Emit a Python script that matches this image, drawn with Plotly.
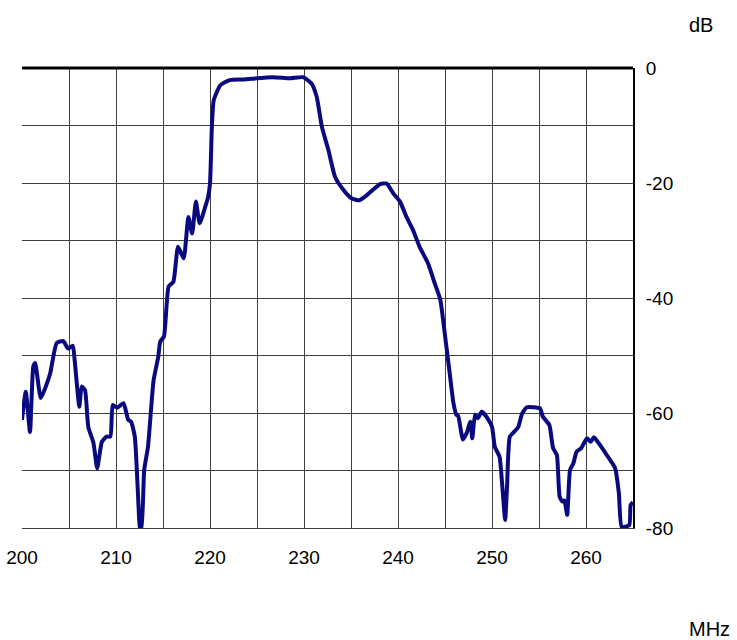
import plotly.graph_objects as go

# Frequency response data
freq_mhz = [
    200.0, 200.4, 200.85, 201.2, 201.4, 202.0, 202.6, 203.0, 203.7, 204.4,
    204.9, 205.4, 205.6, 206.1, 206.35, 206.7, 207.05, 207.6, 208.0, 208.5,
    209.0, 209.4, 209.65, 210.1, 210.8, 211.3, 211.6, 212.0, 212.4, 212.55,
    212.7, 213.0, 213.4, 214.0, 214.5, 214.7, 215.1, 215.6, 216.1, 216.6,
    217.2, 217.7, 218.1, 218.5, 218.9, 219.5, 219.8, 220.0, 220.2, 220.4,
    221.1, 222.1, 223.5, 226.7, 228.5, 229.9, 230.8, 231.35, 231.9, 232.6,
    233.3, 234.2, 235.1, 235.9, 236.7, 237.4, 238.1, 238.8, 239.5, 240.2,
    240.9, 241.6, 242.3, 243.2, 243.9, 244.5, 245.0, 245.5, 245.9, 246.2,
    246.4, 246.9, 247.3, 247.7, 247.9, 248.2, 248.5, 248.9, 249.4, 250.0,
    250.3, 250.8, 251.1, 251.4, 251.6, 251.9, 252.4, 252.8, 253.2, 253.7,
    254.4, 255.1, 255.4, 256.1, 256.5, 256.9, 257.2, 257.5, 257.7, 258.0,
    258.3, 258.65, 259.0, 259.5, 260.1, 260.5, 260.85, 261.5, 262.2, 263.1,
    263.5, 263.8, 264.6, 264.75, 265.0,
]
level_db = [
    -61.2, -56.3, -63.3, -51.9, -51.3, -57.4, -55.1, -53.1, -47.8, -47.5,
    -48.8, -48.3, -50.8, -58.9, -55.4, -56.0, -62.4, -65.2, -69.6, -65.0,
    -64.1, -64.1, -58.6, -59.1, -58.3, -61.2, -61.5, -64.1, -76.3, -80.0,
    -80.0, -69.9, -65.9, -54.3, -50.2, -47.6, -46.7, -38.0, -37.2, -31.1,
    -33.1, -25.9, -28.8, -23.2, -27.0, -24.1, -22.4, -20.1, -10.2, -5.6,
    -3.0, -2.1, -2.0, -1.6, -1.8, -1.6, -2.7, -5.0, -10.2, -14.3,
    -18.9, -21.2, -22.7, -23.0, -22.1, -21.1, -20.2, -20.1, -21.8, -23.2,
    -25.9, -28.2, -31.1, -34.0, -37.4, -40.3, -46.5, -53.1, -58.3, -60.3,
    -60.5, -64.6, -63.5, -61.5, -64.4, -60.3, -60.9, -59.8, -60.6, -62.4,
    -65.9, -67.6, -72.8, -78.6, -72.8, -64.1, -63.2, -62.4, -60.1, -59.0,
    -59.0, -59.2, -60.6, -62.1, -66.1, -67.3, -74.6, -75.4, -75.2, -77.7,
    -69.9, -68.8, -66.7, -66.1, -64.4, -65.0, -64.2, -65.6, -67.3, -69.6,
    -74.0, -79.8, -79.5, -76.0, -75.5,
]

x_tick_vals = [200, 205, 210, 215, 220, 225, 230, 235, 240, 245, 250, 255, 260]
x_tick_text = ["200", "", "210", "", "220", "", "230", "", "240", "", "250", "", "260"]
y_tick_vals = [-80, -70, -60, -50, -40, -30, -20, -10, 0]
y_tick_text = ["-80", "", "-60", "", "-40", "", "-20", "", "0"]

TICK_FONT = dict(family="Liberation Sans, Arial", size=19, color="#000000")
GRID = "#404040"

fig = go.Figure()
fig.add_trace(go.Scatter(
    x=freq_mhz, y=level_db, mode="lines",
    line=dict(color="#0a0a80", width=4, shape="spline", smoothing=0.5),
    hoverinfo="skip", showlegend=False,
))

fig.update_layout(
    width=737, height=640,
    margin=dict(l=22, r=104, t=68, b=112, autoexpand=False),
    paper_bgcolor="white", plot_bgcolor="white",
    showlegend=False,
    xaxis=dict(
        range=[200, 265], tickmode="array", tickvals=x_tick_vals, ticktext=x_tick_text,
        showgrid=True, gridcolor=GRID, gridwidth=1, zeroline=False,
        showline=True, linecolor=GRID, linewidth=1, automargin=False,
        ticks="", tickfont=TICK_FONT, ticklabelstandoff=12,
    ),
    yaxis=dict(
        range=[-80, 0], side="right", tickmode="array", tickvals=y_tick_vals, ticktext=y_tick_text,
        showgrid=True, gridcolor=GRID, gridwidth=1, zeroline=False,
        showline=True, linecolor="#000000", linewidth=2, automargin=False,
        ticks="", tickfont=TICK_FONT, ticklabelstandoff=7,
    ),
    shapes=[
        dict(type="line", xref="paper", yref="paper", x0=0, x1=1, y0=1, y1=1,
             line=dict(color="#000000", width=3)),
    ],
    annotations=[
        dict(text="dB", xref="paper", yref="paper", x=1.088, y=1.0, yshift=43,
             xanchor="left", yanchor="middle", showarrow=False,
             font=dict(family="Liberation Sans, Arial", size=20, color="#000000")),
        dict(text="MHz", xref="paper", yref="paper", x=1.088, y=0.0, yshift=-101,
             xanchor="left", yanchor="middle", showarrow=False,
             font=dict(family="Liberation Sans, Arial", size=20, color="#000000")),
    ],
)

fig.write_html("out.html", config={"displayModeBar": False},
               post_script="document.body.style.margin='0px';")
